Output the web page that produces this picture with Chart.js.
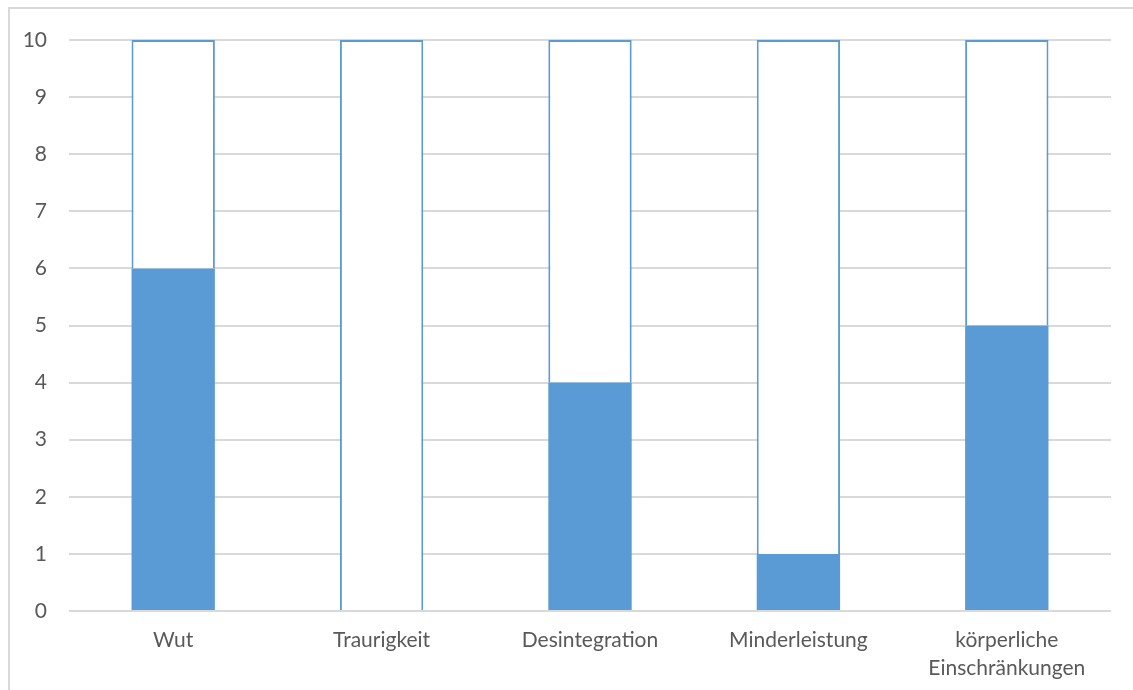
<!DOCTYPE html>
<html><head><meta charset="utf-8">
<script src="https://cdn.jsdelivr.net/npm/chart.js@4/dist/chart.umd.min.js"></script>
<style>
html,body{margin:0;padding:0;background:#fff;width:1133px;height:690px;overflow:hidden;}
#frame{position:absolute;left:8px;top:7px;width:1140px;height:700px;border-left:2px solid #D9D9D9;border-top:2px solid #D9D9D9;box-sizing:border-box;}
#wrap{position:absolute;left:0;top:0;width:1133px;height:690px;}
</style></head>
<body>
<div id="frame"></div>
<div id="wrap"><canvas id="c" width="1133" height="690"></canvas></div>
<script>
const categories = ["Wut", "Traurigkeit", "Desintegration", "Minderleistung", ["körperliche", "Einschränkungen"]];
const filledValues = [6, 0, 4, 1, 5];
const remainderValues = [4, 10, 6, 9, 5];
const yTicks = [0,1,2,3,4,5,6,7,8,9,10];

const textColor = '#595959';
const blue = '#5B9BD5';

new Chart(document.getElementById('c'), {
  type: 'bar',
  data: {
    labels: categories,
    datasets: [
      { data: filledValues, backgroundColor: blue, borderWidth: 0, barPercentage: 0.4, categoryPercentage: 1 },
      { data: remainderValues, backgroundColor: '#FFFFFF', borderColor: blue, borderWidth: 2, borderSkipped: 'bottom', barPercentage: 0.4, categoryPercentage: 1 }
    ]
  },
  options: {
    responsive: false,
    animation: false,
    devicePixelRatio: 1,
    layout: { padding: { left: 0, right: 22, top: 40, bottom: 0 } },
    plugins: { legend: { display: false }, tooltip: { enabled: false } },
    scales: {
      x: {
        stacked: true,
        afterFit: (s) => { s.height = 79; },
        grid: { display: false, drawTicks: false },
        border: { display: false },
        ticks: { color: textColor, font: { family: 'Lato', size: 21, lineHeight: 1.33 }, padding: 15, maxRotation: 0, autoSkip: false }
      },
      y: {
        stacked: true,
        min: 0, max: 10,
        afterFit: (s) => { s.width = 69; },
        afterBuildTicks: (s) => { s.ticks = yTicks.map(v => ({ value: v })); },
        grid: { color: '#D9D9D9', lineWidth: 2, drawTicks: false },
        border: { display: false },
        ticks: { color: textColor, font: { family: 'Lato', size: 21 }, padding: 22 }
      }
    }
  }
});
</script>
</body></html>
